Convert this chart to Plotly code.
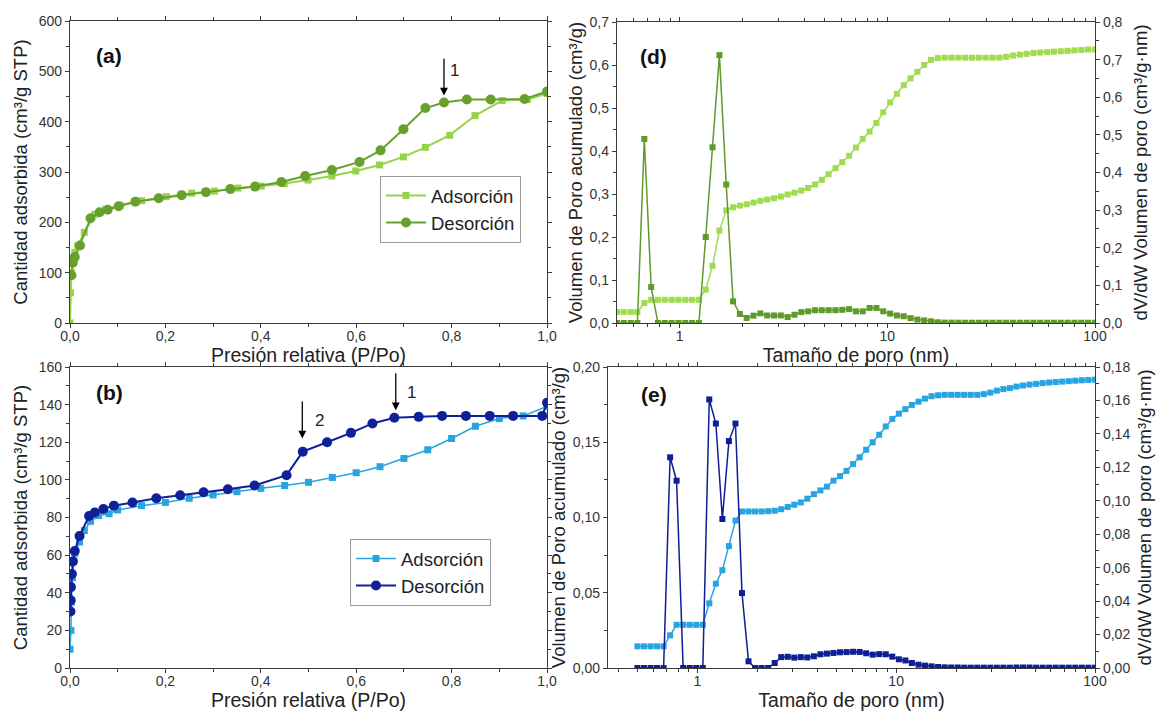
import plotly.graph_objects as go

# ---------------- data: panel (a) ----------------
a_ads_p = [0.0, 0.001, 0.003, 0.006, 0.01, 0.016, 0.03, 0.052, 0.075, 0.105, 0.15, 0.202, 0.255,
           0.303, 0.352, 0.401, 0.449, 0.499, 0.549, 0.599, 0.649, 0.699, 0.745, 0.796, 0.849,
           0.906, 0.959, 1.0]
a_ads_v = [0, 60, 100, 125, 140, 153, 180, 216, 226, 234, 243, 251, 258,
           262, 268, 272, 277, 284, 292, 302, 314, 330, 349, 373, 412,
           442, 444, 456]
a_des_p = [1.0, 0.953, 0.882, 0.832, 0.784, 0.745, 0.699, 0.651, 0.607, 0.549, 0.493, 0.443,
           0.388, 0.336, 0.285, 0.234, 0.186, 0.137, 0.102, 0.079, 0.062, 0.043, 0.021, 0.010,
           0.006, 0.003]
a_des_v = [460, 445, 444, 444, 438, 427, 385, 343, 320, 304, 292, 280,
           271, 266, 260, 254, 248, 241, 232, 225, 220, 208, 154, 131,
           120, 95]

# ---------------- data: panel (b) ----------------
b_ads_p = [0.0, 0.002, 0.003, 0.005, 0.008, 0.01, 0.02, 0.03, 0.043, 0.06, 0.082, 0.1, 0.15,
           0.2, 0.25, 0.3, 0.35, 0.4, 0.45, 0.5, 0.55, 0.6, 0.65, 0.7, 0.75, 0.8, 0.85,
           0.9, 0.95, 1.0]
b_ads_v = [10, 20, 35, 48, 57, 61, 67, 73, 78, 81, 82, 84, 86.3,
           88, 90.2, 92, 93.7, 95.5, 97, 98.7, 101.3, 103.8, 107, 111.4, 116, 122, 128.5,
           132.6, 134, 139]
b_des_p = [1.0, 0.99, 0.929, 0.88, 0.83, 0.78, 0.731, 0.68, 0.634, 0.589, 0.539, 0.488, 0.454,
           0.387, 0.331, 0.28, 0.231, 0.181, 0.131, 0.092, 0.07, 0.052, 0.04, 0.02, 0.01,
           0.006, 0.004, 0.002, 0.0015, 0.001]
b_des_v = [141, 134, 134, 134, 134, 134, 133.5, 133, 130, 125, 120, 115, 102.5,
           97, 95, 93.4, 91.8, 90.2, 88, 86.3, 84.5, 82.7, 80.8, 70.2, 62.2,
           56.6, 50, 43, 36, 30]

# ---------------- pore diameters (nm) ----------------
pore_d = [0.500, 0.539, 0.582, 0.627, 0.677, 0.730, 0.787, 0.849, 0.916, 0.988,
          1.066, 1.149, 1.240, 1.337, 1.442, 1.556, 1.678, 1.810, 1.952, 2.105,
          2.271, 2.450, 2.642, 2.850, 3.074, 3.315, 3.577, 3.858, 4.161, 4.488,
          4.841, 5.221, 5.631, 6.074, 6.552, 7.067, 7.622, 8.221, 8.868, 9.565,
          10.32, 11.13, 12.00, 12.95, 13.96, 15.06, 16.25, 17.52, 18.90, 20.39,
          21.99, 23.72, 25.58, 27.59, 29.76, 32.10, 34.62, 37.34, 40.28, 43.45,
          46.86, 50.55, 54.52, 58.81, 63.43, 68.42, 73.80, 79.60, 85.86, 92.61, 99.89]

# ---------------- panel (d) ----------------
d_cum = [0.0256, 0.0256, 0.0256, 0.0256, 0.0465, 0.054, 0.054, 0.054, 0.054, 0.054,
         0.054, 0.054, 0.054, 0.0775, 0.133, 0.215, 0.262, 0.269, 0.273, 0.276,
         0.280, 0.284, 0.287, 0.290, 0.294, 0.299, 0.303, 0.308, 0.314, 0.322,
         0.333, 0.346, 0.360, 0.374, 0.389, 0.408, 0.428, 0.445, 0.465, 0.490,
         0.513, 0.533, 0.553, 0.569, 0.584, 0.600, 0.612, 0.616, 0.617, 0.617,
         0.617, 0.617, 0.617, 0.617, 0.617, 0.617, 0.617, 0.619, 0.622, 0.624,
         0.626, 0.628, 0.629, 0.630, 0.631, 0.632, 0.633, 0.634, 0.635, 0.636, 0.636]
d_dvdw = [0.0, 0.0, 0.0, 0.0, 0.489, 0.0957, 0.0, 0.0, 0.0, 0.0,
          0.0, 0.0, 0.0, 0.2286, 0.467, 0.712, 0.368, 0.0576, 0.024, 0.0133,
          0.0195, 0.0257, 0.020, 0.020, 0.020, 0.016, 0.022, 0.029, 0.031, 0.034,
          0.034, 0.034, 0.034, 0.035, 0.037, 0.031, 0.031, 0.040, 0.040, 0.031,
          0.025, 0.020, 0.018, 0.013, 0.009, 0.007, 0.0045, 0.002, 0.001, 0.001,
          0.0008, 0.0008, 0.0008, 0.0008, 0.0008, 0.0008, 0.0008, 0.0008, 0.0008, 0.0008,
          0.0008, 0.0008, 0.0008, 0.0008, 0.0008, 0.0008, 0.0008, 0.0008, 0.0008, 0.0008, 0.0008]

# ---------------- panel (e) ----------------
e_cum = [0.0144, 0.0144, 0.0144, 0.0144, 0.0144, 0.0217, 0.0287, 0.0287, 0.0287, 0.0287,
         0.0287, 0.043, 0.056, 0.065, 0.081, 0.098, 0.104, 0.104, 0.104, 0.104,
         0.1042, 0.1045, 0.1055, 0.107, 0.1085, 0.110, 0.1125, 0.1155, 0.118, 0.1205,
         0.1245, 0.1275, 0.131, 0.1355, 0.140, 0.145, 0.150, 0.155, 0.1605, 0.1655,
         0.169, 0.172, 0.1748, 0.177, 0.179, 0.1806, 0.1812, 0.1815, 0.1815, 0.1815,
         0.1815, 0.1815, 0.1815, 0.182, 0.183, 0.1843, 0.1853, 0.186, 0.187, 0.1877,
         0.1883, 0.1888, 0.1893, 0.1897, 0.190, 0.1903, 0.1906, 0.1909, 0.1912, 0.1914, 0.1916]
e_dvdw = [0.0, 0.0, 0.0, 0.0, 0.0, 0.126, 0.112, 0.0, 0.0, 0.0,
          0.0, 0.1606, 0.1462, 0.0891, 0.1357, 0.1462, 0.0448, 0.004, 0.0, 0.0,
          0.0, 0.003, 0.0065, 0.0067, 0.0062, 0.0065, 0.0063, 0.007, 0.0082, 0.0086,
          0.009, 0.0094, 0.0095, 0.0097, 0.0096, 0.0088, 0.008, 0.0083, 0.0082, 0.0068,
          0.0052, 0.0045, 0.003, 0.002, 0.0014, 0.001, 0.0006, 0.0004, 0.0003, 0.0003,
          0.0002, 0.0002, 0.0002, 0.0002, 0.0002, 0.0002, 0.0002, 0.0002, 0.0003, 0.0003,
          0.0003, 0.0002, 0.0002, 0.0002, 0.0002, 0.0002, 0.0002, 0.0002, 0.0002, 0.0002, 0.0002]

log_minor_ticks = [0.4, 0.5, 0.6, 0.7, 0.8, 0.9, 2, 3, 4, 5, 6, 7, 8, 9,
                   20, 30, 40, 50, 60, 70, 80, 90]

# ---------------- styling ----------------
C_A_ADS = "#97d34a"
C_A_DES = "#67a02c"
C_B_ADS = "#2aa4de"
C_B_DES = "#0f2099"
C_D_CUM = "#a0dc52"
C_D_DV = "#5f9a2b"
C_E_CUM = "#28a5e0"
C_E_DV = "#0e1f95"
AX = "#3a3a3a"
FONT = "Liberation Sans, Arial, sans-serif"

fig = go.Figure()

fig.add_trace(go.Scatter(x=a_ads_p, y=a_ads_v, mode="lines+markers", name="Adsorción",
                         line=dict(color=C_A_ADS, width=2), marker=dict(symbol="square", size=7),
                         xaxis="x", yaxis="y", legend="legend"))
fig.add_trace(go.Scatter(x=a_des_p, y=a_des_v, mode="lines+markers", name="Desorción",
                         line=dict(color=C_A_DES, width=2), marker=dict(symbol="circle", size=10),
                         xaxis="x", yaxis="y", legend="legend"))
fig.add_trace(go.Scatter(x=b_ads_p, y=b_ads_v, mode="lines+markers", name="Adsorción",
                         line=dict(color=C_B_ADS, width=1.5), marker=dict(symbol="square", size=7),
                         xaxis="x2", yaxis="y2", legend="legend2"))
fig.add_trace(go.Scatter(x=b_des_p, y=b_des_v, mode="lines+markers", name="Desorción",
                         line=dict(color=C_B_DES, width=2), marker=dict(symbol="circle", size=10),
                         xaxis="x2", yaxis="y2", legend="legend2"))
fig.add_trace(go.Scatter(x=pore_d, y=d_cum, mode="lines+markers", showlegend=False,
                         line=dict(color=C_D_CUM, width=1.5), marker=dict(symbol="square", size=6),
                         xaxis="x3", yaxis="y3"))
fig.add_trace(go.Scatter(x=pore_d, y=d_dvdw, mode="lines+markers", showlegend=False,
                         line=dict(color=C_D_DV, width=1.5), marker=dict(symbol="square", size=6),
                         xaxis="x3", yaxis="y4"))
fig.add_trace(go.Scatter(x=pore_d, y=e_cum, mode="lines+markers", showlegend=False,
                         line=dict(color=C_E_CUM, width=1.5), marker=dict(symbol="square", size=6),
                         xaxis="x4", yaxis="y5"))
fig.add_trace(go.Scatter(x=pore_d, y=e_dvdw, mode="lines+markers", showlegend=False,
                         line=dict(color=C_E_DV, width=1.5), marker=dict(symbol="square", size=6),
                         xaxis="x4", yaxis="y6"))

W, H = 1160, 712
def px(x): return x / W
def py(y): return 1 - y / H

common = dict(showline=True, linecolor=AX, linewidth=1.3, ticks="outside", ticklen=4,
              tickcolor=AX, tickwidth=1.2, showgrid=False, zeroline=False, automargin=False,
              tickfont=dict(size=14, color="#333", family=FONT))
XT = dict(size=19.5, color="#222", family=FONT)
YT = dict(size=18.5, color="#222", family=FONT)
minor_lin = dict(ticklen=3, tickcolor=AX, tickwidth=1, ticks="outside")
minor_log = dict(tickvals=log_minor_ticks, ticklen=3, tickcolor=AX, tickwidth=1, ticks="outside")
XLS = -4  # tick label standoff for x axes

fig.update_layout(
    xaxis=dict(domain=[px(70), px(547)], anchor="y", range=[0, 1], dtick=0.2, tickformat=".1f",
               mirror="ticks", minor=dict(dtick=0.1, **minor_lin), ticklabelstandoff=XLS,
               title=dict(text="Presión relativa (P/Po)", standoff=3, font=XT), **common),
    yaxis=dict(domain=[py(323), py(21)], anchor="x", range=[0, 600], dtick=100,
               mirror="ticks", minor=dict(dtick=50, **minor_lin),
               title=dict(text="Cantidad adsorbida (cm³/g STP)", standoff=6, font=YT), **common),
    xaxis2=dict(domain=[px(70), px(547)], anchor="y2", range=[0, 1], dtick=0.2, tickformat=".1f",
                mirror="ticks", minor=dict(dtick=0.1, **minor_lin), ticklabelstandoff=XLS,
                title=dict(text="Presión relativa (P/Po)", standoff=3, font=XT), **common),
    yaxis2=dict(domain=[py(668), py(367)], anchor="x2", range=[0, 160], dtick=20,
                mirror="ticks", minor=dict(dtick=10, **minor_lin),
                title=dict(text="Cantidad adsorbida (cm³/g STP)", standoff=6, font=YT), **common),
    xaxis3=dict(domain=[px(617), px(1095)], anchor="y3", type="log", range=[-0.301, 2],
                tickvals=[1, 10, 100], ticktext=["1", "10", "100"], mirror="ticks",
                minor=minor_log, ticklabelstandoff=XLS,
                title=dict(text="Tamaño de poro (nm)", standoff=3, font=XT), **common),
    yaxis3=dict(domain=[py(323), py(22)], anchor="x3", range=[0, 0.7], dtick=0.1, tickformat=".1f",
                mirror=True, minor=dict(dtick=0.05, **minor_lin),
                title=dict(text="Volumen de Poro acumulado (cm³/g)", standoff=2, font=YT), **common),
    yaxis4=dict(overlaying="y3", side="right", anchor="x3", range=[0, 0.8], dtick=0.1,
                tickformat=".1f", minor=dict(dtick=0.05, **minor_lin),
                title=dict(text="dV/dW Volumen de poro (cm³/g·nm)", standoff=12, font=YT), **common),
    xaxis4=dict(domain=[px(608), px(1095)], anchor="y5", type="log", range=[-0.449, 2],
                tickvals=[1, 10, 100], ticktext=["1", "10", "100"], mirror="ticks",
                minor=minor_log, ticklabelstandoff=XLS,
                title=dict(text="Tamaño de poro (nm)", standoff=3, font=XT), **common),
    yaxis5=dict(domain=[py(668), py(367)], anchor="x4", range=[0, 0.2], dtick=0.05, tickformat=".2f",
                mirror=True, minor=dict(dtick=0.025, **minor_lin),
                title=dict(text="Volumen de Poro acumulado (cm³/g)", standoff=2, font=YT), **common),
    yaxis6=dict(overlaying="y5", side="right", anchor="x4", range=[0, 0.18], dtick=0.02,
                tickformat=".2f", minor=dict(dtick=0.01, **minor_lin),
                title=dict(text="dV/dW Volumen de poro (cm³/g·nm)", standoff=8, font=YT), **common),
)

legend_common = dict(xanchor="left", yanchor="top", bgcolor="white", bordercolor="#9a9a9a",
                     borderwidth=1, font=dict(size=18.5, color="#222", family=FONT),
                     tracegroupgap=0, itemwidth=40)
fig.update_layout(
    legend=dict(x=px(380), y=py(176), **legend_common),
    legend2=dict(x=px(350), y=py(539), **legend_common),
)

arrow = dict(showarrow=True, arrowhead=2, arrowsize=1.2, arrowwidth=1.3, arrowcolor="black", text="")
annotations = [
    dict(x=0.784, y=452, ax=0.784, ay=528, xref="x", yref="y", axref="x", ayref="y", **arrow),
    dict(x=0.683, y=137, ax=0.683, ay=157.5, xref="x2", yref="y2", axref="x2", ayref="y2", **arrow),
    dict(x=0.487, y=122, ax=0.487, ay=142.5, xref="x2", yref="y2", axref="x2", ayref="y2", **arrow),
]
txt = dict(showarrow=False, font=dict(size=17, color="#222", family=FONT))
annotations += [
    dict(x=0.807, y=502, xref="x", yref="y", text="1", **txt),
    dict(x=0.715, y=146.7, xref="x2", yref="y2", text="1", **txt),
    dict(x=0.524, y=131.7, xref="x2", yref="y2", text="2", **txt),
]
lab = dict(showarrow=False, font=dict(size=21, color="#111", family=FONT))
annotations += [
    dict(x=0.082, y=532, xref="x", yref="y", text="<b>(a)</b>", **lab),
    dict(x=0.082, y=146.7, xref="x2", yref="y2", text="<b>(b)</b>", **lab),
    dict(x=-0.125, y=0.62, xref="x3", yref="y3", text="<b>(d)</b>", **lab),
    dict(x=-0.217, y=0.182, xref="x4", yref="y5", text="<b>(e)</b>", **lab),
]

fig.update_layout(
    width=W, height=H, margin=dict(l=0, r=0, t=0, b=0),
    paper_bgcolor="white", plot_bgcolor="white", separators=", ",
    font=dict(family=FONT, color="#222"),
    annotations=annotations,
)

fig.write_html("out.html")
